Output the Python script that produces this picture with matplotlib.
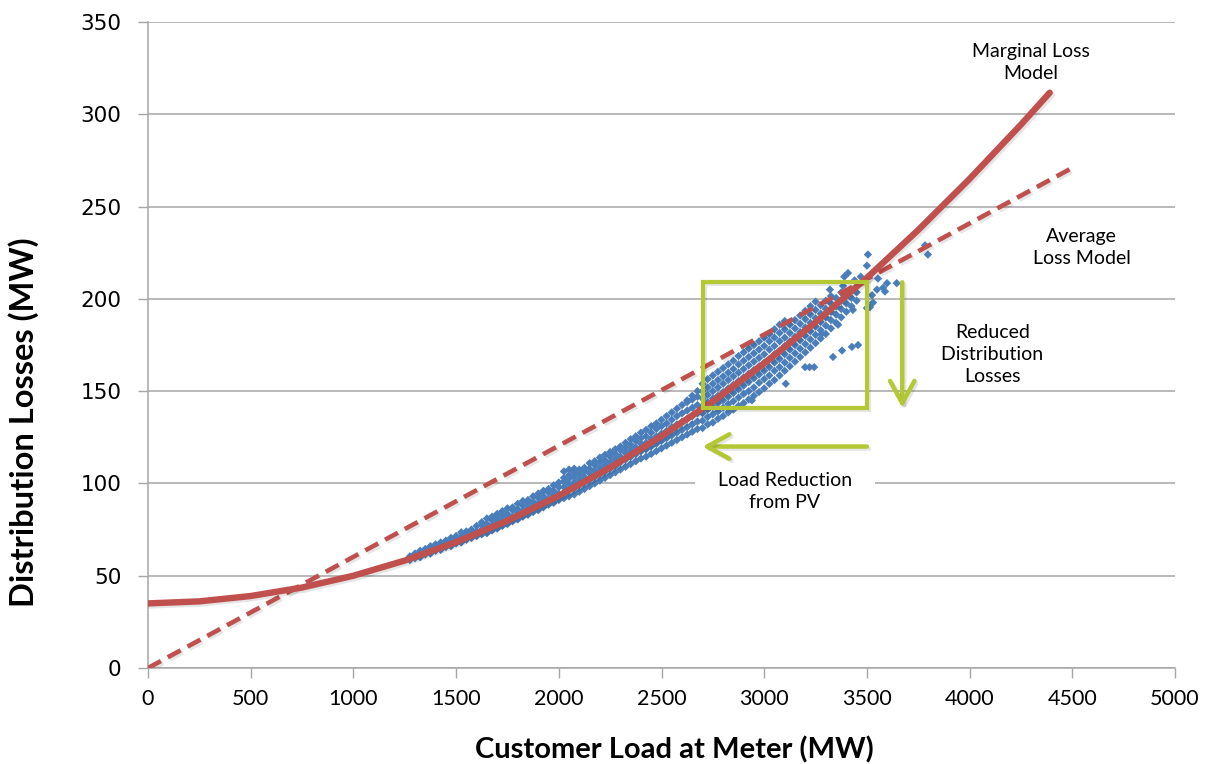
import matplotlib
matplotlib.use("Agg")
import matplotlib.pyplot as plt
import matplotlib.patheffects as pe
from matplotlib.patches import Rectangle

# ---------------- data ----------------
# Marginal loss model
marginal_load = [0, 250, 500, 750, 1000, 1250, 1500, 1750, 2000, 2250, 2500,
                 2750, 3000, 3250, 3500, 3750, 4000, 4250, 4390]
marginal_loss = [35.0, 36.1, 39.0, 43.6, 50.0, 58.2, 68.2, 79.8, 93.3, 108.6,
                 125.6, 144.4, 165.0, 187.3, 211.4, 237.3, 265.0, 294.4, 311.7]

# Average loss model (dashed straight line)
average_load = [0, 4500]
average_loss = [0, 271]

# Measured points: load columns and the losses observed at each column
scatter_cols = [1275, 1300, 1325, 1350, 1375, 1400, 1425, 1450, 1475, 1500,
                1525, 1550, 1575, 1600, 1625, 1650, 1675, 1700, 1725, 1750,
                1775, 1800, 1825, 1850, 1875, 1900, 1925, 1950, 1975, 2000,
                2025, 2050, 2075, 2100, 2125, 2150, 2175, 2200, 2225, 2250,
                2275, 2300, 2325, 2350, 2375, 2400, 2425, 2450, 2475, 2500,
                2525, 2550, 2575, 2600, 2625, 2650, 2675, 2700, 2725, 2750,
                2775, 2800, 2825, 2850, 2875, 2900, 2925, 2950, 2975, 3000,
                3025, 3050, 3075, 3100, 3125, 3150, 3175, 3200, 3225, 3250,
                3275, 3300, 3325, 3350, 3375, 3400, 3425, 3450]
scatter_losses = [
    [58.5, 60.5], [59.5, 61.5, 62], [60, 62.5, 63.5], [61.5, 63, 64.5],
    [62, 64.5, 66], [63.5, 65, 67], [64, 66.5, 68], [65.5, 67.5, 69],
    [66, 68.5, 70.5], [67.5, 70, 71.5], [68, 71, 73.5], [69.5, 72, 74],
    [70.5, 73.5, 75], [71.5, 74, 77], [72.5, 75, 77.5, 79], [73, 76.5, 78, 81],
    [74.5, 77, 80, 82], [75.5, 78.5, 81, 83.5], [77, 79.5, 82.5, 85],
    [78, 81.5, 83.5, 86.5], [79.5, 82, 85.5, 87], [80.5, 84, 86, 89],
    [82, 85, 88, 90.5], [83, 86.5, 89.5, 91], [84.5, 88, 90, 93],
    [85.5, 89, 92, 94.5], [87, 90.5, 93, 96], [88.5, 91.5, 95, 97],
    [89.5, 93.5, 96, 99], [91, 94.5, 98, 100.5],
    [92, 95, 98, 101, 103, 106.5], [93, 96.5, 99.5, 102.5, 104.5, 107.5],
    [94, 97.5, 100.5, 103.5, 106, 108], [95.5, 99, 102, 105, 107.5, 107],
    [97, 100.5, 103.5, 106.5, 108.5], [98.5, 102, 105.5, 108, 111],
    [100, 103.5, 107, 110, 112], [101.5, 105, 108.5, 111.5, 114],
    [103, 106.5, 110, 112.5, 115.5], [104.5, 108, 111.5, 114.5, 117],
    [106, 109.5, 113, 116, 118.5], [107.5, 111.5, 114.5, 118, 120],
    [109, 113, 116.5, 119.5, 122], [110.5, 114.5, 118, 121, 124],
    [112, 116, 119.5, 123, 125.5], [113.5, 117.5, 121.5, 124.5, 127.5],
    [114.5, 118.5, 122, 125.5, 129], [116, 120, 124, 127.5, 131],
    [117.5, 121.5, 125.5, 129.5, 132.5], [119, 123, 127, 131, 134.5],
    [120.5, 124.5, 128.5, 132.5, 136.5], [122, 126, 130.5, 134.5, 138.5],
    [123.5, 127.5, 132, 136.5, 140.5], [125, 129, 133.5, 138, 142.5],
    [126.5, 130.5, 135, 139.5, 144, 145], [128, 132, 136.5, 141, 145.5, 147.5],
    [129.5, 133.5, 138, 142.5, 147, 150],
    [130, 134, 138, 142, 146, 150, 154],
    [132, 136, 140, 144, 148, 152, 156.5],
    [133, 137.5, 141.5, 146, 150, 154, 158.5],
    [135, 139, 143.5, 147.5, 152, 156, 160.5],
    [136.5, 141, 145, 149.5, 154, 158, 162.5],
    [138.5, 143, 147, 151.5, 156, 160, 164.5],
    [140, 144.5, 149, 153.5, 158, 162, 166.5],
    [142, 146.5, 151, 155.5, 160, 164.5, 169],
    [143.5, 148.5, 153, 157.5, 162, 166.5, 171],
    [145.5, 150, 155, 159.5, 164, 168.5, 173],
    [147.5, 152, 157, 161.5, 166, 170.5, 175],
    [149.5, 154.5, 159, 163.5, 168, 172.5, 177],
    [151.5, 156.5, 161, 165.5, 170, 174.5, 179],
    [154, 158.5, 163, 167.5, 172.5, 177, 181],
    [156, 161, 165.5, 170, 174.5, 179, 183.5],
    [158.5, 163, 167.5, 172, 177, 181.5, 186],
    [161, 165.5, 170, 174.5, 179, 183.5, 188],
    [163.5, 168, 172.5, 177, 181.5, 186],
    [166, 170.5, 175, 179.5, 184, 188.5],
    [168.5, 173, 177.5, 182, 186.5, 191],
    [171, 175.5, 180, 184.5, 189, 193.5],
    [173.5, 178, 182.5, 187, 191.5, 196],
    [176, 180.5, 185, 189.5, 194, 198.5],
    [178.5, 183, 187.5, 192, 196.5],
    [181, 185.5, 190, 194.5, 199],
    [184, 188.5, 193, 197.5, 201.5],
    [187, 191.5, 196, 200.5],
    [190, 194.5, 199, 203.5],
    [193, 197.5, 202],
    [196, 200.5, 205],
    [199, 203.5],
]

# Scattered individual points away from the main band
outlier_load = [3105, 2940, 3199, 3221, 3243, 3335, 3379, 3427, 3457, 3505,
                3500, 3408, 3390, 3554, 3598, 3645, 3783, 3797, 3525, 3549,
                3579, 3588, 3530, 3515, 3500, 3470, 3440, 3320, 3384, 3432,
                3280, 3360]
outlier_loss = [154, 145, 163, 163, 163, 168.5, 172, 174, 175, 224,
                218, 214, 212, 211, 208.5, 208.5, 229, 224, 202, 205,
                206, 204, 198, 195.5, 195, 212, 210, 205, 207, 194,
                181, 186]

# Annotation geometry (data units)
box_load = [2700, 3500]
box_loss = [141, 209]
arrow_left_load = [3500, 2700]
arrow_left_loss = 120
arrow_down_load = 3672
arrow_down_loss = [209, 141]

x_ticks = [0, 500, 1000, 1500, 2000, 2500, 3000, 3500, 4000, 4500, 5000]
y_ticks = [0, 50, 100, 150, 200, 250, 300, 350]

# ---------------- style ----------------
RED = "#C0504D"
BLUE = "#4A7EBB"
GREEN = "#B3C833"
GRID = "#A6A6A6"
FONT = "Lato"

fig = plt.figure(figsize=(12.14, 7.64), dpi=100)
ax = fig.add_axes([148 / 1214, 96 / 764, 1027 / 1214, 646 / 764])

ax.set_xlim(0, 5000)
ax.set_ylim(0, 350)
ax.set_xticks(x_ticks)
ax.set_yticks(y_ticks)
ax.set_xticklabels([str(v) for v in x_ticks], fontsize=15.5, family=FONT)
ax.set_yticklabels([str(v) for v in y_ticks], fontsize=15.5, family="DejaVu Sans")
ax.tick_params(axis="x", direction="out", length=7, width=1, color=GRID, pad=8)
ax.tick_params(axis="y", direction="out", length=7, width=1, color=GRID, pad=12)
ax.yaxis.grid(True, color=GRID, linewidth=1.1)
ax.set_axisbelow(True)
for s in ["top", "right"]:
    ax.spines[s].set_visible(False)
for s in ["left", "bottom"]:
    ax.spines[s].set_color(GRID)
    ax.spines[s].set_linewidth(1.1)

ax.set_xlabel("Customer Load at Meter (MW)", fontsize=21, fontweight="bold",
              family=FONT)
ax.set_ylabel("Distribution Losses (MW)", fontsize=23.5, fontweight="bold",
              family=FONT)
ax.xaxis.set_label_coords(0.513, -0.105)
ax.yaxis.set_label_coords(-0.106, 0.381)

# scatter points
sx, sy = [], []
for c, vals in zip(scatter_cols, scatter_losses):
    for v in vals:
        sx.append(c)
        sy.append(v)
sx += outlier_load
sy += outlier_loss
ax.scatter(sx, sy, marker="D", s=18, color=BLUE, edgecolors="none", zorder=3)

shadow = [pe.SimpleLineShadow(offset=(1.5, -1.5), alpha=0.1, shadow_color="black"),
          pe.Normal()]

ax.plot(average_load, average_loss, color=RED, lw=3.3, dashes=(3.2, 1.7),
        zorder=4, path_effects=shadow, solid_capstyle="butt")
ax.plot(marginal_load, marginal_loss, color=RED, lw=4.6, zorder=5,
        solid_capstyle="round", path_effects=shadow)

# green box
rect = Rectangle((box_load[0], box_loss[0]), box_load[1] - box_load[0],
                 box_loss[1] - box_loss[0], fill=False, edgecolor=GREEN,
                 linewidth=3, zorder=6, path_effects=shadow)
ax.add_patch(rect)

arrow_kw = dict(arrowstyle="->,head_length=1.0,head_width=0.55", lw=3.2,
                color=GREEN, shrinkA=0, shrinkB=0, mutation_scale=16,
                path_effects=shadow)
ax.annotate("", xy=(arrow_left_load[1], arrow_left_loss),
            xytext=(arrow_left_load[0], arrow_left_loss),
            arrowprops=arrow_kw, zorder=6)
ax.annotate("", xy=(arrow_down_load, arrow_down_loss[1]),
            xytext=(arrow_down_load, arrow_down_loss[0]),
            arrowprops=arrow_kw, zorder=6)

# texts
tkw = dict(fontsize=14, family=FONT, ha="center", va="center",
           linespacing=1.35, color="black", zorder=7)
ax.text(4300, 328, "Marginal Loss\nModel", **tkw)
ax.text(4545, 228, "Average\nLoss Model", **tkw)
ax.text(4110, 170, "Reduced\n    Distribution    \nLosses",
        bbox=dict(facecolor="white", edgecolor="none", pad=2), **tkw)
ax.text(3100, 95.5, "    Load Reduction    \nfrom PV",
        bbox=dict(facecolor="white", edgecolor="none", pad=2), **tkw)

fig.savefig("out.png", dpi=100)
